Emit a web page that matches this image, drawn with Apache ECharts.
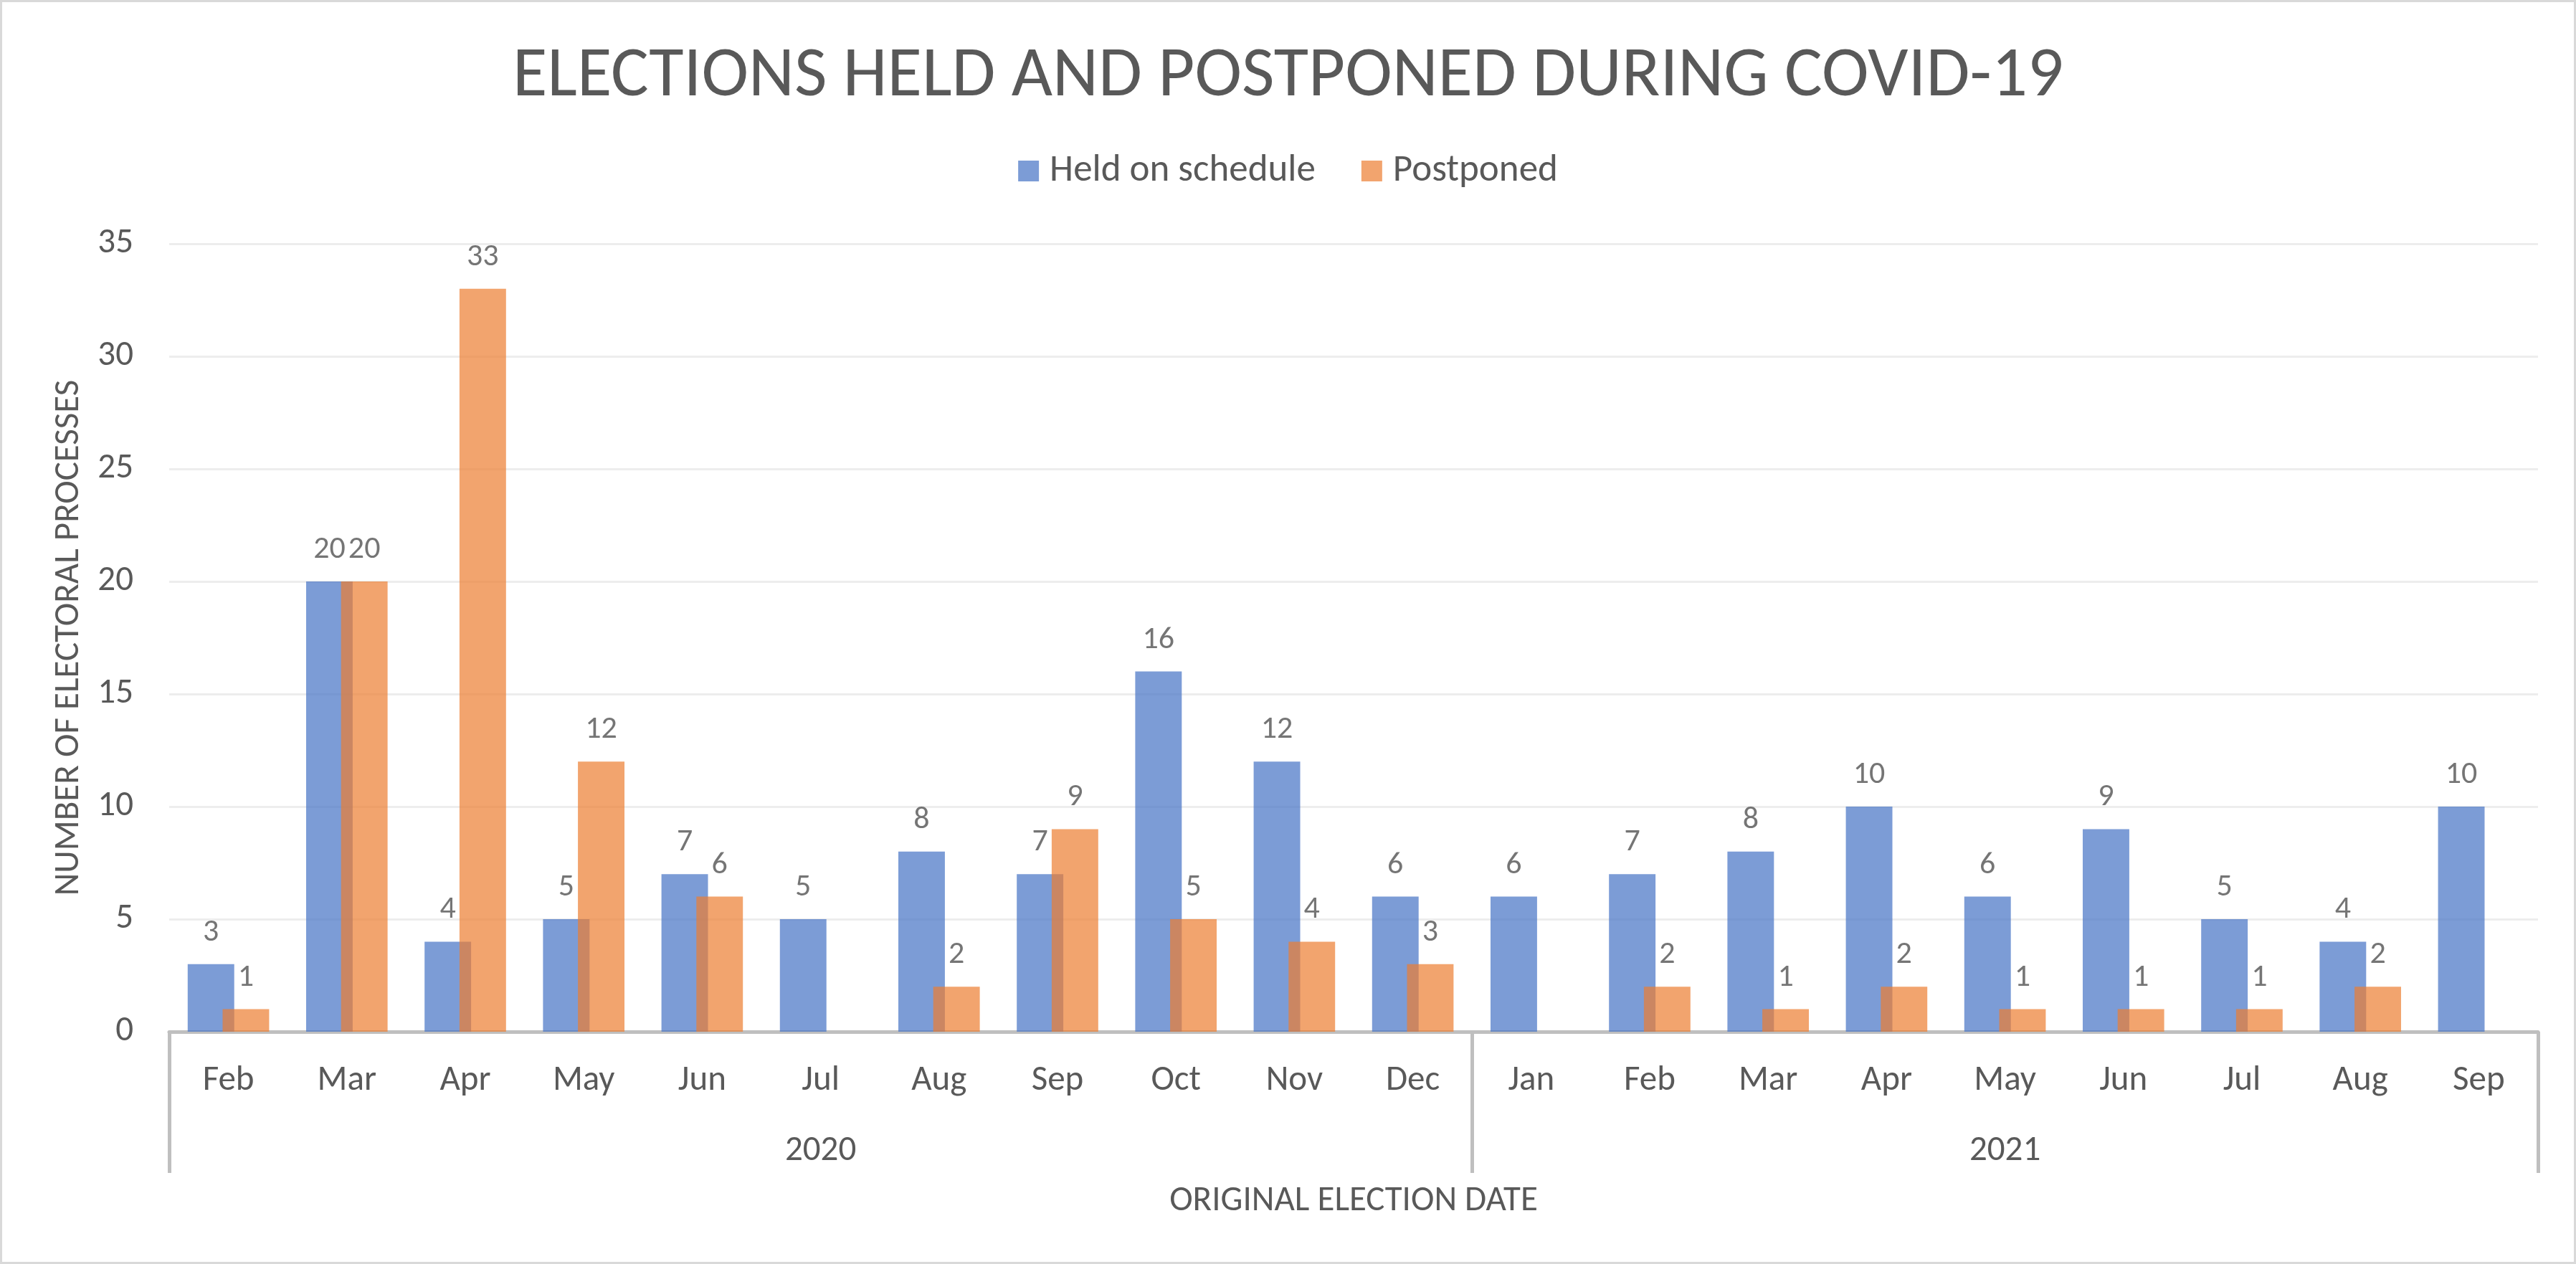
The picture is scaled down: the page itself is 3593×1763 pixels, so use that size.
<!DOCTYPE html>
<html>
<head>
<meta charset="utf-8">
<script src="https://cdn.jsdelivr.net/npm/echarts@6/dist/echarts.min.js"></script>
<style>
  html, body { margin: 0; padding: 0; background: #fff; }
  #chart { width: 3593px; height: 1763px; position: absolute; left: 0; top: 0; }
  #frame { position: absolute; left: 0; top: 0; width: 3593px; height: 1763px; box-sizing: border-box; border: 3px solid #D9D9D9; pointer-events: none; }
</style>
</head>
<body>
<div id="chart"></div>
<div id="frame"></div>
<script>
// ---- data ----
const months = ['Feb','Mar','Apr','May','Jun','Jul','Aug','Sep','Oct','Nov','Dec',
                'Jan','Feb','Mar','Apr','May','Jun','Jul','Aug','Sep'];
const years = ['2020', '2021'];
const monthsPerYear = [11, 9];
const heldOnSchedule = [3,20,4,5,7,5,8,7,16,12,6, 6,7,8,10,6,9,5,4,10];
const postponed = [1,20,33,12,6,null,2,9,5,4,3, null,2,1,2,1,1,1,2,null];
const yTicks = { min: 0, max: 35, interval: 5 };

// group boundaries and centres (in category units) for the year bracket axis
const boundaries = [0];
const centers = [];
monthsPerYear.forEach(function (n) {
  const start = boundaries[boundaries.length - 1];
  centers.push(start + n / 2);
  boundaries.push(start + n);
});

const FONT = "Carlito, Calibri, Lato, 'Open Sans', sans-serif";
const TXT = '#595959';
const LINE = '#BFBFBF';

const chart = echarts.init(document.getElementById('chart'), null, { renderer: 'canvas' });

const labelStyle = {
  show: true, position: 'top', distance: 22,
  color: '#3A3A3A', fontSize: 44, fontFamily: FONT
};

chart.setOption({
  backgroundColor: '#ffffff',
  textStyle: { fontFamily: FONT, color: TXT },
  title: {
    text: 'ELECTIONS HELD AND POSTPONED DURING COVID-19',
    left: 'center', top: 54,
    textStyle: { fontFamily: FONT, fontSize: 99, fontWeight: 300, color: TXT }
  },
  legend: {
    top: 207, left: 'center',
    itemWidth: 29, itemHeight: 29, itemGap: 64,
    icon: 'rect',
    textStyle: { fontFamily: FONT, fontSize: 53, color: TXT, padding: [0, 0, 0, 10] },
    data: ['Held on schedule', 'Postponed']
  },
  grid: { left: 236, right: 53, top: 340, bottom: 324 },
  xAxis: [
    {
      type: 'category', data: months, position: 'bottom',
      axisLine: { show: true, lineStyle: { color: LINE, width: 5 } },
      axisTick: { show: false },
      axisLabel: { color: TXT, fontSize: 49, fontFamily: FONT, margin: 44, interval: 0 },
      splitLine: { show: false }
    },
    {
      type: 'value', position: 'bottom', min: 0, max: months.length,
      axisLine: { show: false },
      splitLine: { show: false },
      axisTick: { show: true, customValues: boundaries, length: 197, lineStyle: { color: LINE, width: 5 } },
      axisLabel: {
        customValues: centers,
        formatter: function (v) { const i = centers.indexOf(v); return i >= 0 ? years[i] : ''; },
        color: TXT, fontSize: 49, fontFamily: FONT, margin: 142
      },
      name: 'ORIGINAL ELECTION DATE', nameLocation: 'middle', nameGap: 212,
      nameTextStyle: { color: TXT, fontSize: 49, fontFamily: FONT }
    }
  ],
  yAxis: {
    type: 'value', min: yTicks.min, max: yTicks.max, interval: yTicks.interval,
    axisLine: { show: false }, axisTick: { show: false },
    axisLabel: { color: TXT, fontSize: 49, fontFamily: FONT, margin: 50 },
    splitLine: { show: true, lineStyle: { color: '#EDEDED', width: 3 } },
    name: 'NUMBER OF ELECTORAL PROCESSES', nameLocation: 'middle', nameGap: 115,
    nameTextStyle: { color: TXT, fontSize: 49, fontFamily: FONT }
  },
  series: [
    {
      name: 'Held on schedule', type: 'bar', xAxisIndex: 0,
      data: heldOnSchedule, barWidth: '39.3%', barGap: '-25%',
      itemStyle: { color: '#4472C4', opacity: 0.7 },
      label: labelStyle
    },
    {
      name: 'Postponed', type: 'bar', xAxisIndex: 0,
      data: postponed, barWidth: '39.3%', barGap: '-25%',
      itemStyle: { color: '#ED7D31', opacity: 0.7 },
      label: labelStyle
    }
  ]
});
</script>
</body>
</html>
